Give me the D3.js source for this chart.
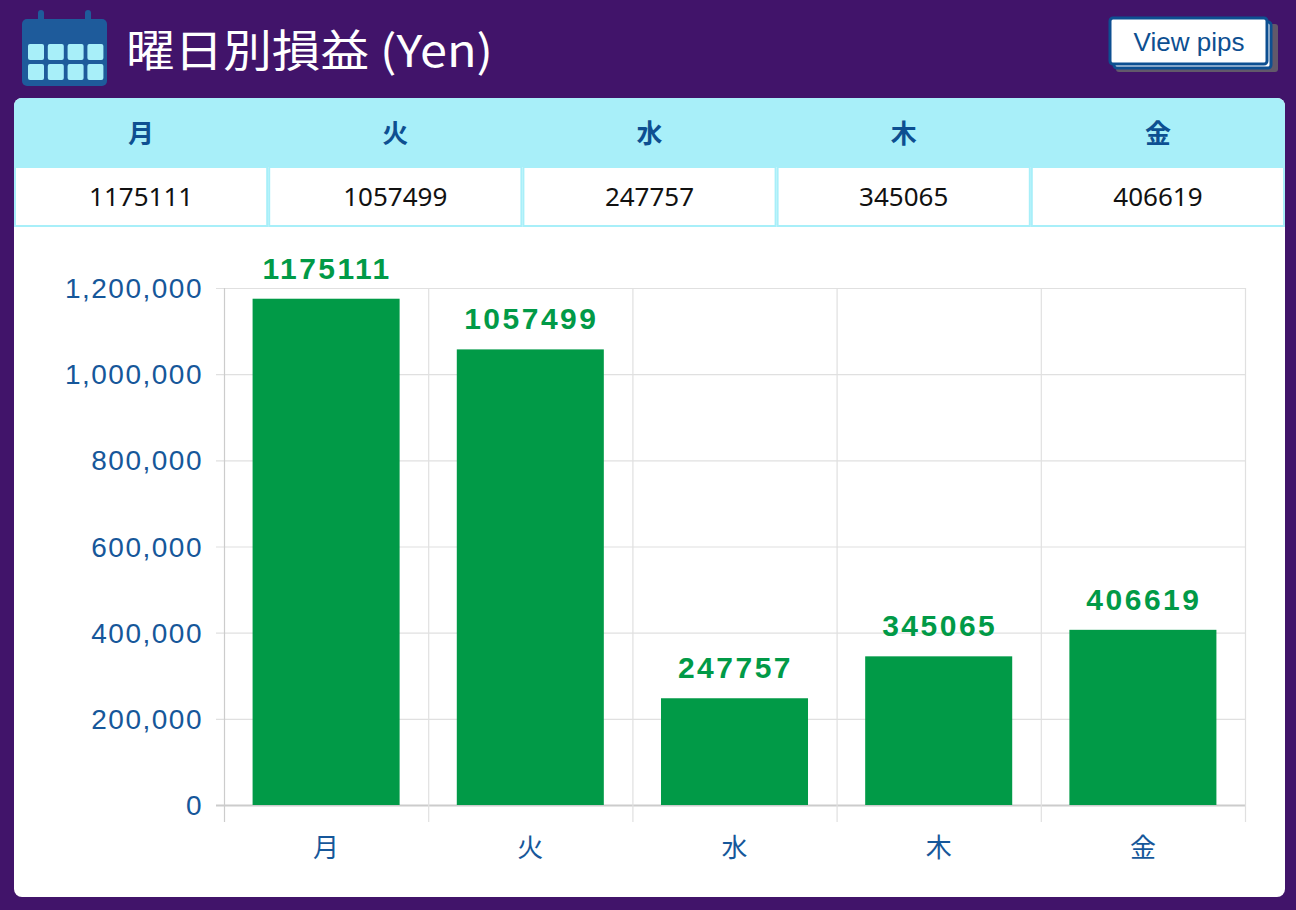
<!DOCTYPE html>
<html>
<head>
<meta charset="utf-8">
<script src="https://cdn.jsdelivr.net/npm/d3@7"></script>
<style>
  html, body { margin: 0; padding: 0; background: #41146a; }
  svg { display: block; }
</style>
</head>
<body>
<svg id="vis"></svg>
<script>
(function() {
  // data
  var days = ["月", "火", "水", "木", "金"];
  var profits = [1175111, 1057499, 247757, 345065, 406619];
  var yTicks = [0, 200000, 400000, 600000, 800000, 1000000, 1200000];

  var width = 1296, height = 910;
  var blue = "#16579a", green = "#019a47", cyan = "#a8eff9";
  var cjk = "'Noto Sans CJK JP', 'Noto Sans', sans-serif";
  var sans = "'Liberation Sans', Arial, sans-serif";

  var svg = d3.select("#vis").attr("width", width).attr("height", height);

  svg.append("rect").attr("width", width).attr("height", height).attr("fill", "#41146a");

  //calendar icon
  var icon = svg.append("g").attr("transform", "translate(22,10)");
  icon.append("rect").attr("x", 16).attr("y", 0).attr("width", 6).attr("height", 14).attr("rx", 3).attr("fill", "#1e5b9b");
  icon.append("rect").attr("x", 63).attr("y", 0).attr("width", 6).attr("height", 14).attr("rx", 3).attr("fill", "#1e5b9b");
  icon.append("rect").attr("x", 0).attr("y", 9).attr("width", 85).attr("height", 67).attr("rx", 5).attr("fill", "#1e5b9b");
  for (var r = 0; r < 2; r++) {
    for (var c = 0; c < 4; c++) {
      icon.append("rect")
        .attr("x", 6 + c * 19.8).attr("y", 34 + r * 20)
        .attr("width", 16).attr("height", 16).attr("rx", 2)
        .attr("fill", cyan);
    }
  }

  svg.append("text")
    .attr("x", 126).attr("y", 67)
    .attr("fill", "#fff")
    .attr("font-family", cjk)
    .attr("font-size", 44)
    .attr("textLength", 367)
    .attr("lengthAdjust", "spacingAndGlyphs")
    .text("曜日別損益 (Yen)");

  //view pips button
  var btn = svg.append("g");
  btn.append("rect").attr("x", 1116).attr("y", 24).attr("width", 162).attr("height", 48).attr("rx", 3)
    .attr("fill", "#6a6a6a").attr("opacity", 0.8);
  btn.append("rect").attr("x", 1114).attr("y", 22).attr("width", 157).attr("height", 46).attr("rx", 3)
    .attr("fill", "#fff").attr("stroke", "#0d4f91").attr("stroke-width", 3);
  btn.append("rect").attr("x", 1110).attr("y", 18).attr("width", 157).attr("height", 46).attr("rx", 3)
    .attr("fill", "#fff").attr("stroke", "#0d4f91").attr("stroke-width", 3);
  btn.append("text")
    .attr("x", 1189).attr("y", 51)
    .attr("text-anchor", "middle")
    .attr("fill", "#0d4f91")
    .attr("font-family", sans)
    .attr("font-size", 26)
    .text("View pips");

  //card
  svg.append("rect").attr("x", 14).attr("y", 98).attr("width", 1271).attr("height", 799).attr("rx", 8).attr("fill", "#fff");
  var clip = svg.append("clipPath").attr("id", "cardclip");
  clip.append("rect").attr("x", 14).attr("y", 98).attr("width", 1271).attr("height", 799).attr("rx", 8);

  //table
  var colX = d3.scaleBand().domain(days).range([14, 1285]);
  var table = svg.append("g").attr("clip-path", "url(#cardclip)");
  table.append("rect").attr("x", 14).attr("y", 98).attr("width", 1271).attr("height", 69).attr("fill", cyan);
  table.selectAll(".hd").data(days).enter().append("text")
    .attr("x", function(d) { return colX(d) + colX.bandwidth() / 2; })
    .attr("y", 143)
    .attr("text-anchor", "middle")
    .attr("fill", "#0d4f91")
    .attr("font-family", cjk)
    .attr("font-weight", "bold")
    .attr("font-size", 26)
    .text(function(d) { return d; });
  table.selectAll(".cell").data(days).enter().append("rect")
    .attr("x", function(d) { return colX(d) + 1; })
    .attr("y", 167)
    .attr("width", colX.bandwidth() - 2)
    .attr("height", 59)
    .attr("fill", "#fff")
    .attr("stroke", cyan)
    .attr("stroke-width", 2);
  table.selectAll(".val").data(profits).enter().append("text")
    .attr("x", function(d, i) { return colX(days[i]) + colX.bandwidth() / 2; })
    .attr("y", 206)
    .attr("text-anchor", "middle")
    .attr("fill", "#111")
    .attr("font-family", "'Noto Sans', sans-serif")
    .attr("font-size", 26)
    .text(function(d) { return d; });

  //chart
  var x = d3.scaleBand().domain(days).range([224, 1245]).paddingInner(0).paddingOuter(0);
  var y = d3.scaleLinear().domain([0, 1200000]).range([805, 288]);
  var grid = "#e0e0e0";

  var g = svg.append("g");

  // horizontal grid
  g.selectAll(".hg").data(yTicks).enter().append("line")
    .attr("x1", 216).attr("x2", 1245)
    .attr("y1", function(d) { return y(d) + 0.5; })
    .attr("y2", function(d) { return y(d) + 0.5; })
    .attr("stroke", function(d) { return d === 0 ? "#cccccc" : grid; })
    .attr("stroke-width", function(d) { return d === 0 ? 2 : 1.2; });

  // vertical grid at category boundaries
  var bounds = days.map(function(d) { return x(d); }).concat([x.range()[1]]);
  g.selectAll(".vg").data(bounds).enter().append("line")
    .attr("x1", function(d) { return d + 0.5; })
    .attr("x2", function(d) { return d + 0.5; })
    .attr("y1", 288).attr("y2", 822)
    .attr("stroke", function(d, i) { return i === 0 ? "#cccccc" : grid; })
    .attr("stroke-width", 1.2);

  // y tick labels
  g.selectAll(".yl").data(yTicks).enter().append("text")
    .attr("x", 203)
    .attr("y", function(d) { return y(d) + 10; })
    .attr("text-anchor", "end")
    .attr("fill", blue)
    .attr("font-family", sans)
    .attr("font-size", 28)
    .attr("letter-spacing", 1.5)
    .text(d3.format(","));

  // x labels
  g.selectAll(".xl").data(days).enter().append("text")
    .attr("x", function(d) { return x(d) + x.bandwidth() / 2; })
    .attr("y", 857)
    .attr("text-anchor", "middle")
    .attr("fill", blue)
    .attr("font-family", cjk)
    .attr("font-size", 26)
    .text(function(d) { return d; });

  // bars
  var barW = x.bandwidth() * 0.72;
  g.selectAll(".bar").data(profits).enter().append("rect")
    .attr("x", function(d, i) { return x(days[i]) + (x.bandwidth() - barW) / 2; })
    .attr("y", function(d) { return y(d); })
    .attr("width", barW)
    .attr("height", function(d) { return y(0) - y(d); })
    .attr("fill", green);

  // bar value labels
  g.selectAll(".bl").data(profits).enter().append("text")
    .attr("x", function(d, i) { return x(days[i]) + x.bandwidth() / 2 + 1; })
    .attr("y", function(d) { return y(d) - 20; })
    .attr("text-anchor", "middle")
    .attr("fill", green)
    .attr("font-family", sans)
    .attr("font-weight", "bold")
    .attr("font-size", 30)
    .attr("letter-spacing", 2.5)
    .text(function(d) { return d; });
}());
</script>
</body>
</html>
